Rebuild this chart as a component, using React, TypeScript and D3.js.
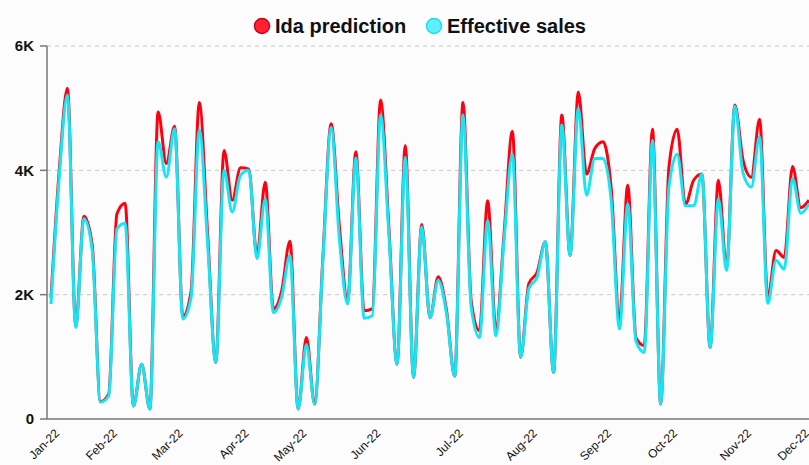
import React from "react";
import * as d3 from "d3";

const monthTicks = [
  { label: "Jan-22", index: 0 },
  { label: "Feb-22", index: 7 },
  { label: "Mar-22", index: 15 },
  { label: "Apr-22", index: 23 },
  { label: "May-22", index: 30 },
  { label: "Jun-22", index: 39 },
  { label: "Jul-22", index: 49 },
  { label: "Aug-22", index: 58 },
  { label: "Sep-22", index: 67 },
  { label: "Oct-22", index: 75 },
  { label: "Nov-22", index: 84 },
  { label: "Dec-22", index: 91 },
];

const idaPrediction = [
  1950, 4000, 5320, 1500, 3260, 2800, 280, 400, 3300, 3470,
  210, 880, 160, 4940, 4110, 4710, 1650, 2050, 5090, 3000,
  910, 4320, 3520, 4040, 4020, 2630, 3810, 1770, 2060, 2860,
  160, 1310, 240, 2600, 4750, 3100, 1900, 4300, 1740, 1770,
  5130, 3100, 880, 4400, 670, 3130, 1630, 2290, 1750, 690,
  5090, 1900, 1420, 3510, 1440, 3000, 4630, 990, 2180, 2360,
  2850, 750, 4890, 2630, 5260, 3940, 4350, 4460, 3700, 1600,
  3760, 1310, 1180, 4660, 240, 4050, 4660, 3450, 3840, 3940,
  1150, 3840, 2440, 5050, 4160, 3890, 4820, 1960, 2710, 2600,
  4060, 3400, 3520,
];

const effectiveSales = [
  1850, 3900, 5210, 1470, 3220, 2720, 270, 370, 3060, 3150,
  210, 880, 160, 4460, 3890, 4670, 1610, 1950, 4650, 2850,
  910, 4000, 3330, 3920, 4000, 2580, 3540, 1710, 1960, 2630,
  160, 1200, 240, 2550, 4690, 2900, 1850, 4200, 1620, 1660,
  4890, 3000, 880, 4210, 670, 3090, 1630, 2230, 1700, 690,
  4890, 1800, 1310, 3190, 1340, 2900, 4260, 990, 2100, 2280,
  2850, 750, 4730, 2630, 5000, 3600, 4190, 4190, 3500, 1450,
  3460, 1250, 1070, 4480, 240, 3730, 4260, 3430, 3430, 3940,
  1150, 3540, 2390, 5030, 3950, 3730, 4540, 1860, 2550, 2410,
  3870, 3310, 3460,
];

const yTicks = [0, 2000, 4000, 6000];
const yTickLabels = ["0", "2K", "4K", "6K"];

const W = 809;
const H = 465;
const left = 47;
const plotX0 = 51;
const plotX1 = 809;
const top = 46;
const bottom = 419;

export default function App() {
  const n = idaPrediction.length;
  const x = d3.scaleLinear().domain([0, n - 1]).range([plotX0, plotX1]);
  const y = d3.scaleLinear().domain([0, 6000]).range([bottom, top]);
  const line = d3
    .line<number>()
    .x((_, i) => x(i))
    .y((d) => y(d))
    .curve(d3.curveMonotoneX);

  const font = "'Liberation Sans', Arial, sans-serif";

  return (
    <svg
      width={W}
      height={H}
      style={{ position: "absolute", left: 0, top: 0, background: "#fcfcfc" }}
      fontFamily={font}
    >
      <rect x={0} y={0} width={W} height={H} fill="#fcfcfc" />
      {/* grid */}
      {yTicks.slice(1).map((t) => (
        <line
          key={t}
          x1={left}
          x2={W}
          y1={y(t)}
          y2={y(t)}
          stroke="#c8c8c8"
          strokeWidth={1}
          strokeDasharray="4 4"
        />
      ))}
      {/* axes */}
      <line x1={left} x2={left} y1={top} y2={bottom} stroke="#777" strokeWidth={1.5} />
      <line x1={left} x2={W} y1={bottom} y2={bottom} stroke="#777" strokeWidth={1.5} />
      {yTicks.map((t, i) => (
        <g key={t}>
          <line x1={left - 7} x2={left} y1={y(t)} y2={y(t)} stroke="#777" strokeWidth={1.5} />
          <text
            x={left - 13}
            y={y(t)}
            dy="0.35em"
            textAnchor="end"
            fontSize={15}
            fontWeight="bold"
            fill="#111"
          >
            {yTickLabels[i]}
          </text>
        </g>
      ))}
      {monthTicks.map((m) => (
        <text
          key={m.label}
          transform={`translate(${x(m.index) + 6},${bottom + 12}) rotate(-45)`}
          textAnchor="end"
          fontSize={12}
          fill="#111"
          dy="0.35em"
        >
          {m.label}
        </text>
      ))}
      {/* lines */}
      <path d={line(idaPrediction) || ""} fill="none" stroke="#ff0010" strokeWidth={3} />
      <path d={line(effectiveSales) || ""} fill="none" stroke="#14e6f5" strokeWidth={3} />
      {/* legend */}
      <circle cx={262} cy={26} r={7.5} fill="#ff2030" stroke="#d0001a" strokeWidth={1.5} />
      <text x={275} y={33} fontSize={20} fontWeight="bold" fill="#111">
        Ida prediction
      </text>
      <circle cx={434} cy={26} r={7.5} fill="#5ef0ff" stroke="#20dcef" strokeWidth={1.5} />
      <text x={447} y={33} fontSize={20} fontWeight="bold" fill="#111">
        Effective sales
      </text>
    </svg>
  );
}
